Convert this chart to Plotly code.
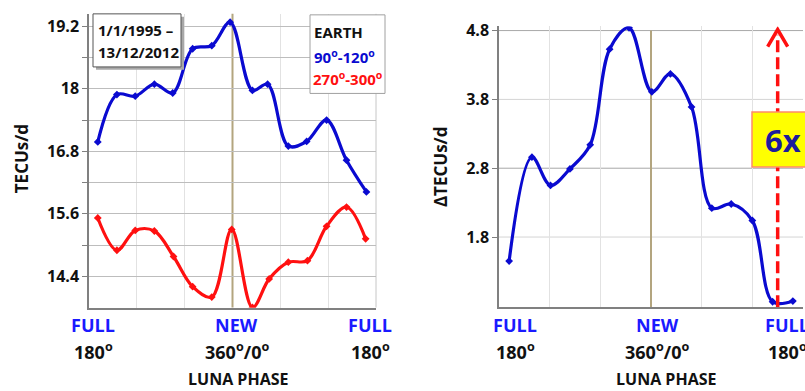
import plotly.graph_objects as go

# ---------------- data ----------------
phase_left = [191, 215, 238, 262, 285, 310, 334, 357, 385, 404, 430, 453, 478, 503, 528]
tec_90_120 = [16.98, 17.89, 17.86, 18.09, 17.92, 18.77, 18.83, 19.28, 17.97, 18.09,
              16.90, 16.99, 17.40, 16.63, 16.02]
phase_red = [191, 215, 238, 262, 286, 310, 334, 359, 385, 406, 430, 454, 478, 503, 527]
tec_270_300 = [15.52, 14.90, 15.28, 15.27, 14.78, 14.20, 14.00, 15.30, 13.80, 14.35,
               14.67, 14.70, 15.36, 15.73, 15.12]
phase_right = [192, 219, 241, 264, 288, 311, 334, 361, 383, 408, 432, 455, 480, 504, 528]
delta_tec = [1.45, 2.96, 2.55, 2.79, 3.14, 4.53, 4.84, 3.91, 4.17, 3.69,
             2.22, 2.28, 2.04, 0.86, 0.87]

phase_ticks = [180, 360, 540]
phase_names = ["FULL", "NEW", "FULL"]
phase_degrees = ["180<sup>o</sup>", "360<sup>o</sup>/0<sup>o</sup>", "180<sup>o</sup>"]
grid_x = [240, 300, 420, 480]
new_moon = 360

left_ticks = [14.4, 15.0, 15.6, 16.2, 16.8, 17.4, 18.0, 18.6, 19.2]
left_labels = ["14.4", "", "15.6", "", "16.8", "", "18", "", "19.2"]
right_ticks = [1.8, 2.8, 3.8, 4.8]
right_labels = ["1.8", "2.8", "3.8", "4.8"]
right_grid_colors = ["#d4d4d4", "#a8a8a8", "#d4d4d4", "#a8a8a8"]
arrow_phase = 510

# ---------------- styling ----------------
W, H = 805, 391
FONT = "Open Sans"
BLUE = "#0a0ad0"
RED = "#ff1010"
LBLUE = "#1a1aff"
AX = "#808080"


def px(x):
    return x / W


def py(y):
    return 1 - y / H


fig = go.Figure()

for xs, ys, col, xa, ya in ((phase_left, tec_90_120, BLUE, "x", "y"),
                            (phase_red, tec_270_300, RED, "x", "y"),
                            (phase_right, delta_tec, BLUE, "x2", "y2")):
    fig.add_trace(go.Scatter(x=xs, y=ys, mode="lines+markers",
                             line=dict(color=col, width=3.2, shape="spline", smoothing=1.0),
                             marker=dict(symbol="diamond", size=6, color=col),
                             xaxis=xa, yaxis=ya, showlegend=False))

xcommon = dict(range=[180, 540], tickvals=grid_x, showticklabels=False, showgrid=True,
               gridcolor="#e2e2e2", gridwidth=1, showline=True, linecolor=AX, linewidth=1.5,
               zeroline=False, ticks="")
ycommon = dict(gridwidth=1, showline=True, linecolor=AX, linewidth=1.5,
               zeroline=False, ticks="outside", ticklen=5, tickcolor=AX,
               tickfont=dict(family=FONT, size=16, color="#111111", weight="bold"))

fig.update_layout(
    width=W, height=H, margin=dict(l=0, r=0, t=0, b=0),
    paper_bgcolor="white", plot_bgcolor="white",
    xaxis=dict(domain=[px(89), px(376)], anchor="y", **xcommon),
    yaxis=dict(domain=[py(306), py(7)], range=[13.8, 19.44], tickvals=left_ticks,
               ticktext=left_labels, showgrid=True, gridcolor="#bdbdbd", anchor="x", **ycommon),
    xaxis2=dict(domain=[px(499), px(803)], anchor="y2", **xcommon),
    yaxis2=dict(domain=[py(305.7), py(19.8)], range=[0.78, 4.86], tickvals=right_ticks,
                ticktext=right_labels, showgrid=False, anchor="x2", **ycommon),
)

shapes = []
# right panel horizontal grid
for v, c in zip(right_ticks, right_grid_colors):
    shapes.append(dict(type="line", xref="paper", yref="y2", x0=px(499), x1=px(803), y0=v, y1=v,
                       line=dict(color=c, width=1), layer="below"))
# right border of left panel
shapes.append(dict(type="line", xref="paper", yref="paper", x0=px(376), x1=px(376),
                   y0=py(306), y1=py(7), line=dict(color="#c6c6c6", width=1), layer="below"))
# new-moon lines
shapes.append(dict(type="line", xref="x", yref="paper", x0=new_moon, x1=new_moon,
                   y0=py(306), y1=py(7), line=dict(color="#b3a57f", width=2), layer="below"))
shapes.append(dict(type="line", xref="x2", yref="paper", x0=new_moon, x1=new_moon,
                   y0=py(305.7), y1=py(24), line=dict(color="#b3a57f", width=2), layer="below"))

# date box with shadow
shapes.append(dict(type="rect", xref="paper", yref="paper", x0=px(96), x1=px(184),
                   y0=py(64), y1=py(10), fillcolor="#a8a8a8", line=dict(width=0)))
shapes.append(dict(type="rect", xref="paper", yref="paper", x0=px(93), x1=px(181),
                   y0=py(61), y1=py(7), fillcolor="white", line=dict(color="#555555", width=1)))
# legend box
shapes.append(dict(type="rect", xref="paper", yref="paper", x0=px(310), x1=px(385),
                   y0=py(88), y1=py(8), fillcolor="white", line=dict(color="#a0a0a0", width=1)))

# dashed red arrow
shapes.append(dict(type="line", xref="x2", yref="y2", x0=arrow_phase, x1=arrow_phase,
                   y0=0.78, y1=4.74, line=dict(color=RED, width=3.5, dash="12px,5px")))
shapes.append(dict(type="path", xref="x2", yref="y2", xsizemode="pixel", ysizemode="pixel",
                   xanchor=arrow_phase, yanchor=4.8,
                   path="M -10 -16 L 0 1 L 10 -16",
                   line=dict(color=RED, width=3.5)))
# 6x box
shapes.append(dict(type="rect", xref="paper", yref="paper", x0=px(752), x1=px(812),
                   y0=py(163), y1=py(107), fillcolor="#ffff00",
                   line=dict(color="#ff8a6a", width=1.5)))
fig.update_layout(shapes=shapes)

ann = []


def text(x, y, s, size=15, color="#111111", weight="bold", xanchor="left", **kw):
    ann.append(dict(x=px(x), y=py(y), xref="paper", yref="paper", text=s, showarrow=False,
                    xanchor=xanchor, yanchor="middle",
                    font=dict(family=FONT, size=size, color=color, weight=weight), **kw))


text(96, 23, "1/1/1995 –", size=15)
text(96, 46, "13/12/2012", size=15)
text(312, 25, "EARTH", size=15)
text(312, 50, "90<sup>o</sup>-120<sup>o</sup>", size=15, color=BLUE)
text(311, 73, "270<sup>o</sup>-300<sup>o</sup>", size=15, color=RED)
text(783, 135, "6x", size=31, color="#1c1c9c", xanchor="center")

text(21, 155, "TECUs/d", size=17, xanchor="center", textangle=-90)
text(440, 163, "ΔTECUs/d", size=17, xanchor="center", textangle=-90)
text(238, 379, "LUNA PHASE", size=16, xanchor="center")
text(666, 379, "LUNA PHASE", size=16, xanchor="center")

left_shift = [4, 4, -6]
right_shift = [16, 6, -16]
for xr, shifts in (("x", left_shift), ("x2", right_shift)):
    for v, name, deg, sh in zip(phase_ticks, phase_names, phase_degrees, shifts):
        ann.append(dict(x=v, y=py(324), xref=xr, yref="paper", text=name, showarrow=False,
                        xanchor="center", yanchor="middle", xshift=sh,
                        font=dict(family=FONT, size=18, color=LBLUE, weight="bold")))
        ann.append(dict(x=v, y=py(350), xref=xr, yref="paper", text=deg, showarrow=False,
                        xanchor="center", yanchor="middle", xshift=sh,
                        font=dict(family=FONT, size=18, color="#111111", weight="bold")))

fig.update_layout(annotations=ann)
fig.write_html("out.html")
